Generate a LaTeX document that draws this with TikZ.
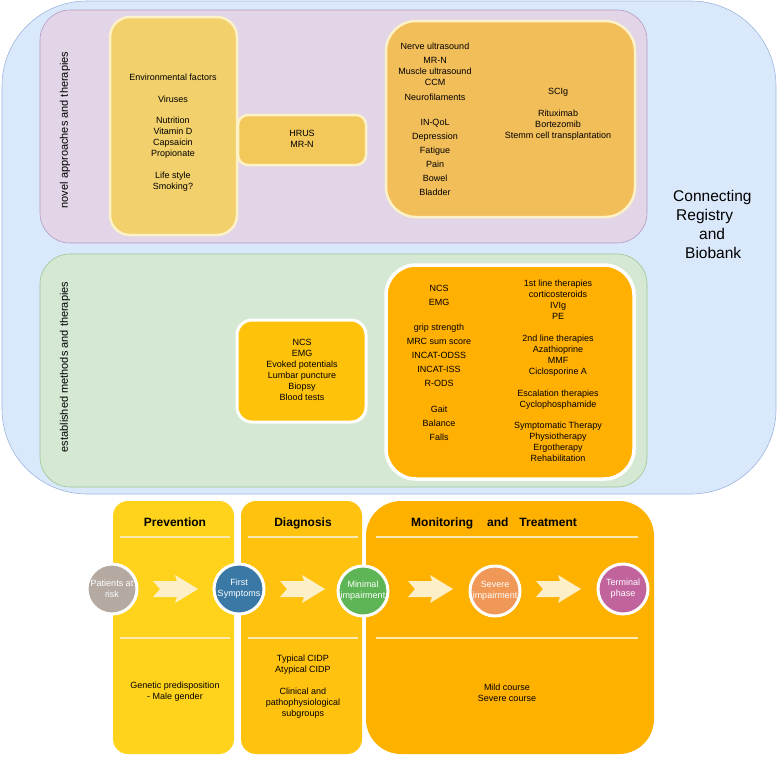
\documentclass[tikz,border=0pt]{standalone}
\usepackage{fontspec}
\setmainfont{Liberation Sans}
\definecolor{bluefill}{HTML}{DAE8FC}
\definecolor{bluedraw}{HTML}{9DB6DC}
\definecolor{purfill}{HTML}{E1D5E7}
\definecolor{purdraw}{HTML}{B49BC4}
\definecolor{grnfill}{HTML}{D5E8D4}
\definecolor{grndraw}{HTML}{9CC591}
\definecolor{envfill}{HTML}{F2D06B}
\definecolor{hrusfill}{HTML}{F3C85B}
\definecolor{topor}{HTML}{F2BE5A}
\definecolor{ncsfill}{HTML}{FFC20A}
\definecolor{estor}{HTML}{FFB000}
\definecolor{cream}{HTML}{FDF1C8}
\definecolor{prevfill}{HTML}{FFD31C}
\definecolor{diagfill}{HTML}{FFC20E}
\definecolor{monfill}{HTML}{FFB100}
\definecolor{arrowfill}{HTML}{FDF0C8}
\definecolor{cgrey}{HTML}{B4AAA2}
\definecolor{cblue}{HTML}{3A78A6}
\definecolor{cgreen}{HTML}{5DB556}
\definecolor{corange}{HTML}{F09858}
\definecolor{cpurple}{HTML}{C1649E}
\definecolor{sepline}{HTML}{FCE9B0}
\begin{document}
\begin{tikzpicture}[x=1pt,y=-1pt,
  txt/.style={font=\fontsize{9}{11}\selectfont, align=center, inner sep=0pt, anchor=north},
  hdr/.style={font=\fontsize{12}{14}\selectfont\bfseries, inner sep=0pt, anchor=base},
  side/.style={font=\fontsize{11}{13}\selectfont, rotate=90, inner sep=0pt},
  stage/.style={circle, minimum size=50pt, line width=3pt, draw=white, inner sep=0pt, text=white, font=\fontsize{9}{11}\selectfont, align=center},
  sepl/.style={draw=sepline, line width=1.2pt},
  panel/.style={line width=0.6pt},
  pics/chevr/.style={code={\fill[arrowfill] (0,-8) -- (24,-8) -- (22,-14) -- (45,0) -- (22,14) -- (24,8) -- (0,8) -- (7,0) -- cycle;}},
]
\useasboundingbox (0,0) rectangle (778,756);

% outer registry panel
\draw[panel, fill=bluefill, draw=bluedraw, rounded corners=85pt] (2,1) rectangle (776,494);
\draw[panel, fill=purfill, draw=purdraw, rounded corners=30pt] (40,10) rectangle (647,243);
\draw[panel, fill=grnfill, draw=grndraw, rounded corners=30pt] (40,254) rectangle (647,487);

\node[side] (novel) at (65,130) {novel approaches and therapies};
\node[side] (estab) at (65,367) {established methods and therapies};

% novel boxes
\draw[fill=envfill, draw=cream, line width=2.5pt, rounded corners=20pt] (110,17) rectangle (237,235);
\draw[fill=hrusfill, draw=cream, line width=2.5pt, rounded corners=10pt] (238,115) rectangle (366,165);
\draw[fill=topor, draw=cream, line width=2.5pt, rounded corners=30pt] (386,21) rectangle (635,217);

\node[txt] (env) at (173,73.5) {Environmental factors\\[11pt]Viruses\\[10pt]Nutrition\\Vitamin D\\Capsaicin\\Propionate\\[11pt]Life style\\Smoking?};
\node[txt] (hrus) at (302,130.5) {HRUS\\MR-N};
\node[txt] (novc1) at (435,42.5) {Nerve ultrasound\\[3pt]MR-N\\Muscle ultrasound\\CCM\\[4pt]Neurofilaments\\[14pt]IN-QoL\\[3pt]Depression\\[3pt]Fatigue\\[3pt]Pain\\[3pt]Bowel\\[3pt]Bladder};
\node[txt] (novc2) at (558,88.5) {SCIg\\[11pt]Rituximab\\Bortezomib\\Stemm cell transplantation};

% established boxes
\draw[fill=ncsfill, draw=white, line width=3pt, rounded corners=15pt] (237,320) rectangle (366,422);
\draw[fill=estor, draw=white, line width=3.5pt, rounded corners=30pt] (386,265) rectangle (634,479);

\node[txt] (ncs) at (302,339.5) {NCS\\EMG\\Evoked potentials\\Lumbar puncture\\Biopsy\\Blood tests};
\node[txt] (estc1) at (439,285.5) {NCS\\[3pt]EMG\\[14pt]grip strength\\[3pt]MRC sum score\\[3pt]INCAT-ODSS\\[3pt]INCAT-ISS\\[3pt]R-ODS\\[15pt]Gait\\[3pt]Balance\\[3pt]Falls};
\node[txt] (estc2) at (558,279.5) {1st line therapies\\corticosteroids\\IVIg\\PE\\[11pt]2nd line therapies\\Azathioprine\\MMF\\Ciclosporine A\\[11pt]Escalation therapies\\Cyclophosphamide\\[10pt]Symptomatic Therapy\\Physiotherapy\\Ergotherapy\\Rehabilitation};

\node[font=\fontsize{15.5}{19}\selectfont, align=left, inner sep=0pt, anchor=north west] (reg) at (673,190)
  {Connecting\\\hspace*{3pt}Registry\\\hspace*{26pt}and\\\hspace*{12pt}Biobank};

% bottom timeline columns
\fill[prevfill, rounded corners=15pt] (113,501) rectangle (234,754);
\fill[diagfill, rounded corners=15pt] (241,501) rectangle (362,754);
\fill[monfill, rounded corners=35pt] (366,501) rectangle (654,754);

\node[hdr] (prev) at (175,526.5) {Prevention};
\node[hdr] (diag) at (303,526.5) {Diagnosis};
\node[hdr] (mon) at (494,526.5) {Monitoring\hspace{14pt}and\hspace{11pt}Treatment};

\draw[sepl] (120,537) -- (230,537);
\draw[sepl] (248,537) -- (358,537);
\draw[sepl] (376,537) -- (638,537);
\draw[sepl] (120,638) -- (230,638);
\draw[sepl] (248,638) -- (358,638);
\draw[sepl] (376,638) -- (638,638);

\pic (a1) at (153,589) {chevr};
\pic (a2) at (280,589) {chevr};
\pic (a3) at (408,589) {chevr};
\pic (a4) at (536,589) {chevr};

\node[stage, fill=cgrey] (risk) at (112,589) {Patients at\\risk};
\node[stage, fill=cblue] (first) at (239,589) {First\\Symptoms};
\node[stage, fill=cgreen] (minimal) at (363,591) {Minimal\\impairment};
\node[stage, fill=corange] (severe) at (495,591) {Severe\\impairment};
\node[stage, fill=cpurple] (terminal) at (623,589) {Terminal\\phase};

\node[txt] (gen) at (175,681.5) {Genetic predisposition\\- Male gender};
\node[txt] (cidp) at (303,654.5) {Typical CIDP\\Atypical CIDP\\[11pt]Clinical and\\pathophysiological\\subgroups};
\node[txt] (course) at (507,683.5) {Mild course\\Severe course};
\end{tikzpicture}
\end{document}
